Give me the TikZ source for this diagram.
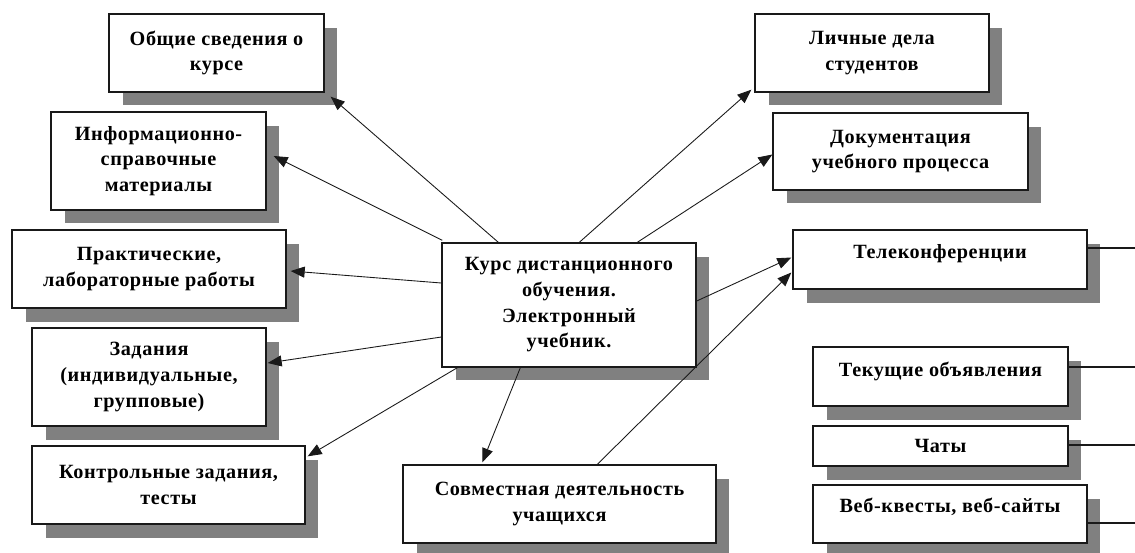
\documentclass[tikz,border=0pt]{standalone}
\usepackage{fontspec}
\setmainfont{Liberation Serif}[LetterSpace=3]
\usepackage{tikz}
\usetikzlibrary{calc, arrows.meta, positioning, shadows}
\definecolor{shadowGray}{gray}{0.5}
\definecolor{lineBlack}{gray}{0.1}

\begin{document}
\begin{tikzpicture}[x=0.02cm, y=-0.02cm,
    box/.style={draw=lineBlack, line width=0.8pt, fill=white, align=center, inner sep=2pt,
        font=\fontsize{11.5}{14.6}\selectfont\bfseries,
        drop shadow={shadow xshift=0.27cm, shadow yshift=-0.27cm, fill=shadowGray, opacity=1}},
    arr/.style={-{Triangle[length=0.28cm, width=0.22cm]}, line width=0.5pt, lineBlack},
    tie/.style={line width=0.7pt, lineBlack}]
    \useasboundingbox (0,0) rectangle (1135,552);

    % left column
    \node[box, minimum width=4.3cm, minimum height=1.56cm] (gen) at (216.5,53) {Общие сведения о\\курсе};
    \node[box, minimum width=4.3cm, minimum height=1.96cm] (info) at (158.5,161) {Информационно-\\справочные\\материалы};
    \node[box, minimum width=5.48cm, minimum height=1.56cm] (prac) at (149,269) {Практические,\\лабораторные работы};
    \node[box, minimum width=4.68cm, minimum height=1.96cm] (task) at (149,377) {Задания\\(индивидуальные,\\групповые)};
    \node[box, minimum width=5.46cm, minimum height=1.56cm] (test) at (168.5,485) {Контрольные задания,\\тесты};

    % centre
    \node[box, minimum width=5.08cm, minimum height=2.48cm] (course) at (569,305) {Курс дистанционного\\обучения.\\Электронный\\учебник.};
    \node[box, minimum width=6.26cm, minimum height=1.56cm] (joint) at (559.5,504) {Совместная деятельность\\учащихся};

    % right column
    \node[box, minimum width=4.68cm, minimum height=1.56cm] (pers) at (872,53) {Личные дела\\студентов};
    \node[box, minimum width=5.1cm, minimum height=1.54cm] (doc) at (900.5,151.5) {Документация\\учебного процесса};
    \node[box, minimum width=5.88cm, minimum height=1.18cm, text depth=0.34cm] (tele) at (940,259.5) {Телеконференции};
    \node[box, minimum width=5.1cm, minimum height=1.18cm, text depth=0.30cm] (news) at (940.5,376.5) {Текущие объявления};
    \node[box, minimum width=5.1cm, minimum height=0.8cm] (chat) at (940.5,446) {Чаты};
    \node[box, minimum width=5.48cm, minimum height=1.16cm, text depth=0.36cm] (web) at (950,514) {Веб-квесты, веб-сайты};

    % arrows from the course
    \draw[arr] ([shift={(57,0)}]course.north west) -- ([shift={(6,4)}]gen.south east);
    \draw[arr] ([shift={(1,-2)}]course.north west) -- ([shift={(7,-5)}]info.east);
    \draw[arr] ([shift={(0,-22)}]course.west) -- ([shift={(4,2)}]prac.east);
    \draw[arr] ([shift={(0,32)}]course.west) -- ([shift={(1,-14)}]task.east);
    \draw[arr] ([shift={(16,0)}]course.south west) -- ([shift={(2,11)}]test.north east);
    \draw[arr] ([shift={(79,0)}]course.south west) -- ([shift={(80,-2)}]joint.north west);
    \draw[arr] ([shift={(138,0)}]course.north west) -- ([shift={(-3,-3)}]pers.south west);
    \draw[arr] ([shift={(196,0)}]course.north west) -- ([shift={(0,3)}]doc.west);
    \draw[arr] ([shift={(0,-4)}]course.east) -- ([shift={(-1,-2)}]tele.west);
    \draw[arr] ([shift={(195,0)}]joint.north west) -- ([shift={(-1,13)}]tele.west);

    % ties to the right edge
    \coordinate (teleR) at (1135,248);
    \coordinate (newsR) at (1135,367);
    \coordinate (chatR) at (1135,445);
    \coordinate (webR) at (1135,523);
    \draw[tie] (tele.east |- teleR) -- (teleR);
    \draw[tie] (news.east |- newsR) -- (newsR);
    \draw[tie] (chat.east |- chatR) -- (chatR);
    \draw[tie] (web.east |- webR) -- (webR);
\end{tikzpicture}
\end{document}
